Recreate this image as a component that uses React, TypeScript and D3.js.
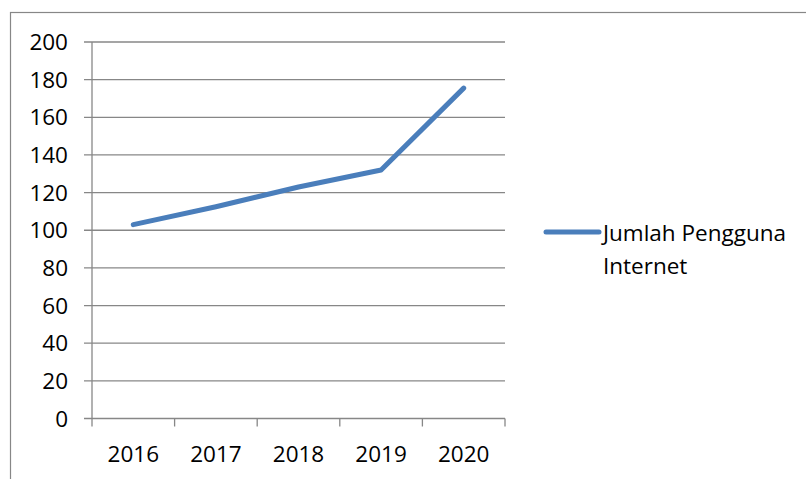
import React from "react";
import * as d3 from "d3";

const years = ["2016", "2017", "2018", "2019", "2020"];
const users = [103, 112.5, 123, 132, 175.5];
const yTicks = [0, 20, 40, 60, 80, 100, 120, 140, 160, 180, 200];
const seriesName = ["Jumlah Pengguna", "Internet"];

export default function App() {
  const W = 806, H = 479;
  const left = 92, right = 505, top = 42, bottom = 418.5;
  const x = d3.scaleBand<string>().domain(years).range([left, right]);
  const y = d3.scaleLinear().domain([0, 200]).range([bottom, top]);
  const line = d3
    .line<number>()
    .x((_, i) => (x(years[i]) as number) + x.bandwidth() / 2)
    .y((d) => y(d));
  const grid = "#878787";
  const font = "'Open Sans', sans-serif";
  const fs = 22.5;
  return (
    <svg width={W} height={H} style={{ position: "absolute", left: 0, top: 0 }}>
      <rect x={0} y={0} width={W} height={H} fill="#fff" />
      <rect x={10.5} y={12.5} width={W + 20} height={H + 20} fill="none" stroke={grid} strokeWidth={1.2} />
      {yTicks.map((t) => (
        <g key={t}>
          <line x1={left - 8} x2={right} y1={y(t)} y2={y(t)} stroke={grid} strokeWidth={1.3} />
          <text x={68} y={y(t) + 8} textAnchor="end" fontFamily={font} fontSize={fs} fill="#000">
            {t}
          </text>
        </g>
      ))}
      <line x1={left} x2={left} y1={top} y2={bottom + 8} stroke={grid} strokeWidth={1.3} />
      {years.map((yr, i) => (
        <g key={yr}>
          <line
            x1={(x(yr) as number) + x.bandwidth()}
            x2={(x(yr) as number) + x.bandwidth()}
            y1={bottom}
            y2={bottom + 8}
            stroke={grid}
            strokeWidth={1.3}
          />
          <text
            x={(x(yr) as number) + x.bandwidth() / 2}
            y={462}
            textAnchor="middle"
            fontFamily={font}
            fontSize={fs}
            fill="#000"
          >
            {yr}
          </text>
        </g>
      ))}
      <path d={line(users) || ""} fill="none" stroke="#4A7EBB" strokeWidth={5} strokeLinecap="round" strokeLinejoin="round" />
      <line x1={546} x2={599} y1={232} y2={232} stroke="#4A7EBB" strokeWidth={5} strokeLinecap="round" />
      <text x={603} y={240.5} fontFamily={font} fontSize={fs} fill="#000">
        {seriesName[0]}
      </text>
      <text x={603} y={274} fontFamily={font} fontSize={fs} fill="#000">
        {seriesName[1]}
      </text>
    </svg>
  );
}
